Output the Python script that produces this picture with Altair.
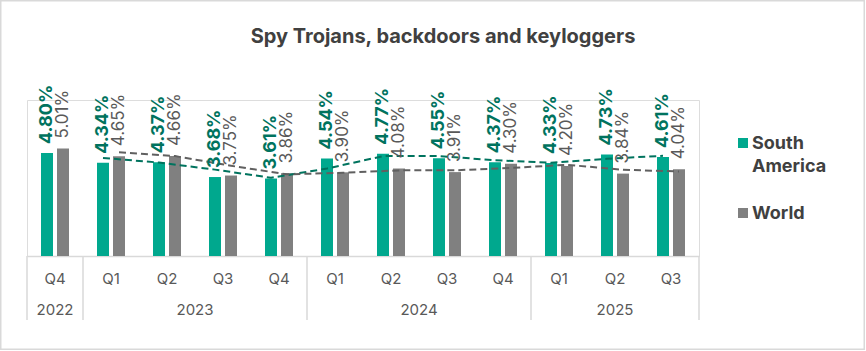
import altair as alt
import pandas as pd

# ---- data ----
years = ["2022", "2023", "2023", "2023", "2023", "2024", "2024", "2024", "2024", "2025", "2025", "2025"]
quarters = ["Q4", "Q1", "Q2", "Q3", "Q4", "Q1", "Q2", "Q3", "Q4", "Q1", "Q2", "Q3"]
south_america = [4.80, 4.34, 4.37, 3.68, 3.61, 4.54, 4.77, 4.55, 4.37, 4.33, 4.73, 4.61]
world = [5.01, 4.65, 4.66, 3.75, 3.86, 3.90, 4.08, 3.91, 4.30, 4.20, 3.84, 4.04]
series_names = ["South America", "World"]
title_text = "Spy Trojans, backdoors and keyloggers"

keys = [f"{y} {q}" for y, q in zip(years, quarters)]
rows = []
for i, k in enumerate(keys):
    for s, vals in zip(series_names, [south_america, world]):
        rows.append({"key": k, "idx": i, "series": s, "value": vals[i]})
df = pd.DataFrame(rows)

yr_rows = []
start = 0
for y in dict.fromkeys(years):
    n = years.count(y)
    yr_rows.append({"year": y, "mid": start + n / 2})
    start += n
yr = pd.DataFrame(yr_rows)
bounds_list = [0]
for y in dict.fromkeys(years):
    bounds_list.append(bounds_list[-1] + years.count(y))
bounds = pd.DataFrame({"b": bounds_list})

# ---- layout ----
W, H = 672, 156
PL, PT, PR, PB = 27, 100, 167, 95
YMAX = 7.27
FONT = "Inter"
TEAL = "#00A88E"
TEAL_DARK = "#00735E"
GRAY = "#808080"
GRAY_TXT = "#595959"
DARK_TXT = "#404040"
LINE_C = "#d9d9d9"

x = alt.X("key:N", sort=keys,
          scale=alt.Scale(domain=keys, paddingInner=0, paddingOuter=0),
          axis=alt.Axis(title=None, labelExpr="split(datum.label, ' ')[1]", ticks=False,
                        domainColor=LINE_C, domainWidth=1.5, labelColor=GRAY_TXT,
                        labelFont=FONT, labelFontSize=15, labelPadding=15, labelAngle=0,
                        grid=False))
xo = alt.XOffset("series:N", sort=series_names,
                 scale=alt.Scale(domain=series_names, paddingInner=0.25, paddingOuter=0.875))
yscale = alt.Scale(domain=[0, YMAX], nice=False, zero=True)
y = alt.Y("value:Q", scale=yscale, axis=None)

base = alt.Chart(df)
bars = base.mark_bar().encode(
    x=x, xOffset=xo, y=y,
    color=alt.Color("series:N", sort=series_names,
                    scale=alt.Scale(domain=series_names, range=[TEAL, GRAY]),
                    legend=None),
)


def labels(series, color, weight, size, dx):
    return base.transform_filter(alt.datum.series == series).transform_calculate(
        label="format(datum.value, '.2f') + '%'"
    ).mark_text(angle=270, align="left", baseline="middle", dx=dx, font=FONT,
                fontSize=size, fontWeight=weight, color=color).encode(
        x=x, xOffset=xo, y=y, text="label:N")


def trend(series, color):
    return base.transform_filter(alt.datum.series == series).transform_window(
        ma="mean(value)", frame=[-1, 0], sort=[alt.SortField("idx")]
    ).transform_filter(alt.datum.idx > 0).mark_line(
        color=color, strokeDash=[7, 4], strokeWidth=2
    ).encode(x=x, xOffset=xo, y=alt.Y("ma:Q", scale=yscale, axis=None), order="idx:Q")


main = alt.layer(
    bars,
    trend("South America", TEAL_DARK),
    trend("World", "#606060"),
    labels("South America", TEAL_DARK, "bold", 18, 9),
    labels("World", GRAY_TXT, "normal", 17, 10),
)

qx = alt.Scale(domain=[0, len(keys)], nice=False, zero=False)
seps = alt.Chart(bounds).mark_rule(color=LINE_C, strokeWidth=1.5).encode(
    x=alt.X("b:Q", scale=qx, axis=None), y=alt.value(H), y2=alt.value(H + 64))
year_text = alt.Chart(yr).mark_text(font=FONT, fontSize=15, color=GRAY_TXT, baseline="middle").encode(
    x=alt.X("mid:Q", scale=qx, axis=None), y=alt.value(H + 54), text="year:N")
one = alt.Chart(pd.DataFrame({"a": [0]}))
frame = one.mark_rect(fill=None, stroke=LINE_C, strokeWidth=1.5).encode(
    x=alt.value(-PL + 0.75), x2=alt.value(W + PR - 1.75),
    y=alt.value(-PT + 0.75), y2=alt.value(H + PB - 1.75))
title = one.mark_text(text=title_text, font=FONT, fontSize=20, fontWeight="bold",
                      color=DARK_TXT, align="center", baseline="middle").encode(
    x=alt.value(443 - PL), y=alt.value(37 - PT))

# legend (swatch + label per series)
leg_df = pd.DataFrame({"series": series_names, "row": [0, 1]})
leg_y = alt.Y("row:Q", scale=alt.Scale(domain=[0, 1], range=[143 - PT, 213 - PT], nice=False, zero=False), axis=None)
leg_sq = alt.Chart(leg_df).mark_square(size=100, opacity=1).encode(
    x=alt.value(743 - PL), y=leg_y,
    color=alt.Color("series:N", scale=alt.Scale(domain=series_names, range=[TEAL, GRAY]), legend=None))
leg_tx = alt.Chart(leg_df).transform_calculate(
    lines="split(datum.series, ' ')"
).mark_text(font=FONT, fontSize=18, fontWeight="bold", color=DARK_TXT, align="left",
            baseline="top", lineHeight=23, dy=-8).encode(
    x=alt.value(752 - PL), y=leg_y, text="lines:N")

deco = alt.layer(seps, year_text, frame, title, leg_sq, leg_tx)

chart = alt.layer(main, deco).resolve_scale(x="independent", y="independent", color="independent").properties(
    width=W, height=H,
    padding={"left": PL, "top": PT, "right": PR, "bottom": PB},
    autosize=alt.AutoSizeParams(type="none"),
).configure_view(stroke=None).configure(background="white")

chart.save("out.html", embed_options={"renderer": "svg", "actions": False})
